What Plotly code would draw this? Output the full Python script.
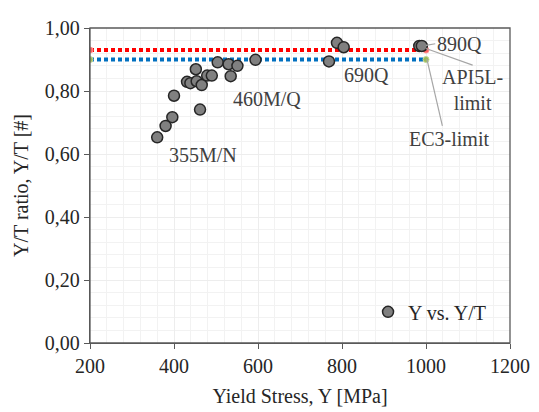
import plotly.graph_objects as go

# Data
yield_stress = [360, 380, 396, 400, 431, 439, 452, 454, 466, 462, 479, 490, 504,
                530, 535, 551, 594, 788, 804, 769, 984, 990]
yt_ratio = [0.653, 0.689, 0.717, 0.785, 0.829, 0.825, 0.869, 0.831, 0.819, 0.741,
            0.849, 0.849, 0.891, 0.885, 0.847, 0.880, 0.899, 0.953, 0.939, 0.894,
            0.943, 0.943]

limit_x = [200, 1000]
api5l_limit = [0.93, 0.93]
ec3_limit = [0.90, 0.90]

x_ticks = [200, 400, 600, 800, 1000, 1200]
y_ticks = [0.0, 0.2, 0.4, 0.6, 0.8, 1.0]

FONT = "Liberation Serif"
TXT = "#404040"

fig = go.Figure()

fig.add_trace(go.Scatter(
    x=limit_x, y=api5l_limit, mode="lines+markers", showlegend=False,
    line=dict(color="#FF0000", width=4, dash="4px,3px"),
    marker=dict(size=6, color="#FF6060", line=dict(color="#FF9090", width=1)),
    hoverinfo="skip"))
fig.add_trace(go.Scatter(
    x=limit_x, y=ec3_limit, mode="lines+markers", showlegend=False,
    line=dict(color="#0070C0", width=4, dash="4px,3px"),
    marker=dict(size=6, color="#9BBB59", line=dict(color="#C3D69B", width=1)),
    hoverinfo="skip"))

fig.add_trace(go.Scatter(
    x=yield_stress, y=yt_ratio, mode="markers", name="Y vs. Y/T",
    marker=dict(size=11, color="#808080", line=dict(color="#262626", width=1.5))))

# leader lines
leader = dict(color="#A6A6A6", width=1.2)
fig.add_shape(type="line", x0=1000, y0=0.935, x1=1111, y1=0.882, line=leader)
fig.add_shape(type="line", x0=1000, y0=0.945, x1=1022, y1=0.95, line=leader)
fig.add_shape(type="line", x0=1002, y0=0.902, x1=1039, y1=0.689, line=leader)

labels = [
    (469, 0.598, "355M/N"),
    (621, 0.775, "460M/Q"),
    (858, 0.852, "690Q"),
    (1080, 0.949, "890Q"),
    (1111, 0.804, "API5L-<br>limit"),
    (1055, 0.647, "EC3-limit"),
]
for lx, ly, t in labels:
    fig.add_annotation(x=lx, y=ly, text=t, showarrow=False,
                       font=dict(family=FONT, size=20, color=TXT),
                       xanchor="center", yanchor="middle")

axis_common = dict(
    showgrid=True, gridcolor="#EDEDED", gridwidth=1,
    minor=dict(showgrid=True, gridcolor="#F2F2F2", gridwidth=1),
    showline=True, linecolor="#595959", linewidth=1.3,
    ticks="outside", ticklen=5, tickcolor="#595959", tickwidth=1.3,
    zeroline=False, mirror=False, ticklabeloverflow="allow",
    tickfont=dict(family=FONT, size=20, color="#262626"),
)

fig.update_xaxes(range=[200, 1200], tickvals=x_ticks, tickformat="d",
                 minor_dtick=40,
                 title=dict(text="Yield Stress, Y [MPa]", standoff=12,
                            font=dict(family=FONT, size=20, color="#262626")),
                 **axis_common)
fig.update_yaxes(range=[0, 1.0], tickvals=y_ticks, tickformat=".2f",
                 minor_dtick=0.04,
                 title=dict(text="Y/T ratio, Y/T [#]", standoff=10,
                            font=dict(family=FONT, size=20, color="#262626")),
                 **axis_common)

# top and right border of plot area
fig.add_shape(type="rect", xref="paper", yref="paper", x0=0, y0=0, x1=1, y1=1,
              line=dict(color="#595959", width=1.3), layer="above")

# the page body adds an 8px margin, so the figure is 8px smaller on each side
fig.update_layout(
    width=531, height=404,
    margin=dict(l=82, r=22, t=9, b=64),
    paper_bgcolor="white", plot_bgcolor="white",
    separators=",.",
    font=dict(family=FONT, size=20, color="#262626"),
    showlegend=True,
    legend=dict(x=0.662, y=0.099, xanchor="left", yanchor="middle",
                bgcolor="rgba(0,0,0,0)", itemwidth=30,
                font=dict(family=FONT, size=20, color="#262626")),
)

fig.write_html("out.html")
